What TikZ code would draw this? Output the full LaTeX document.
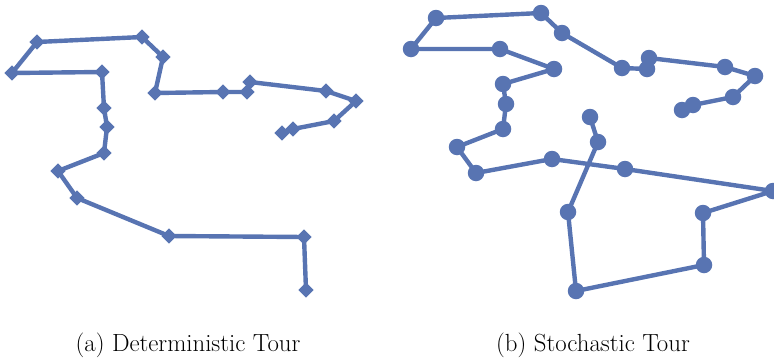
\documentclass[tikz,border=0pt]{standalone}
\usetikzlibrary{shapes.geometric}
\definecolor{tourblue}{RGB}{88,116,178}
\begin{document}
\begin{tikzpicture}[x=1pt,y=-1pt,
  tour/.style={draw=tourblue, line width=4.4pt, line join=round, line cap=round},
  dmark/.style={diamond, fill=tourblue, inner sep=0pt, minimum width=15.5pt, minimum height=15.5pt},
  cmark/.style={circle, fill=tourblue, inner sep=0pt, minimum size=16.5pt},
  captext/.style={font=\fontsize{24.8}{28}\selectfont, anchor=base, inner sep=0pt}]
\useasboundingbox (0,0) rectangle (774,359);
% deterministic tour: diamond markers
\foreach \x/\y [count=\i] in {306/290, 304/237, 169/236, 77/198, 58/171, 104/153,
    107/127, 104/108, 102/72, 12/73, 37/42, 142/37, 163/57, 155/93, 223/92,
    247/92, 250/82, 326/91, 356/101, 334/121, 293/129, 282/133}
  \node[dmark] (d\i) at (\x,\y) {};
\draw[tour] (d1.center) \foreach \i in {2,...,22} { -- (d\i.center) };
% stochastic tour: circle markers
\foreach \x/\y [count=\i] in {590/117, 598/142, 568/212, 576/291, 704/265, 703/213,
    773/191, 625/169, 552/159, 476/173, 457/147, 503/129, 506/104, 503/84,
    554/69, 500/49, 411/49, 436/18, 541/13, 562/33, 622/68, 647/69, 649/58,
    725/67, 755/76, 733/97, 693/105, 682/110}
  \node[cmark] (s\i) at (\x,\y) {};
\draw[tour] (s1.center) \foreach \i in {2,...,28} { -- (s\i.center) };
% captions
\node[captext] (capa) at (188,351) {(a) Deterministic Tour};
\node[captext] (capb) at (593,351) {(b) Stochastic Tour};
\end{tikzpicture}
\end{document}
